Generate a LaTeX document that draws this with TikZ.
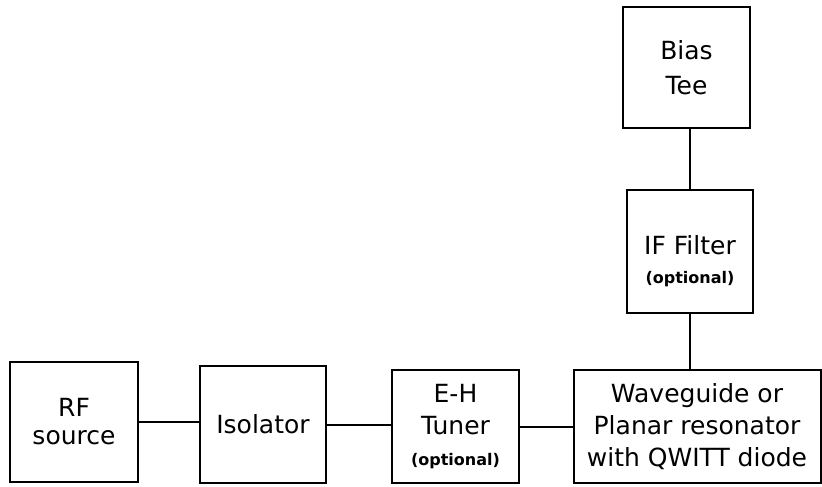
\documentclass[tikz,border=0pt]{standalone}
\usepackage{fontspec}
\setmainfont{DejaVu Sans}
\newcommand{\optfont}{\fontsize{16}{19}\selectfont\bfseries}
\usetikzlibrary{positioning}

\begin{document}
\begin{tikzpicture}[x=1pt,y=-1pt,line width=2pt,
  block/.style={draw,rectangle,align=center,inner sep=0pt,
    font=\fontsize{25}{32}\selectfont}]
  \useasboundingbox (0,0) rectangle (822,487);
  \node[block,minimum width=128pt,minimum height=120pt] (src)  at (74,422)   {RF\\[-4pt]source};
  \node[block,minimum width=126pt,minimum height=117pt] (iso)  at (263,424.5) {Isolator};
  \node[block,minimum width=127pt,minimum height=113pt] (tun)  at (455.5,426.5) {E-H\\Tuner\\[-1pt]{\optfont (optional)}};
  \node[block,minimum width=247pt,minimum height=113pt] (wg)   at (697,426.5) {Waveguide or\\Planar resonator\\with QWITT diode};
  \node[block,minimum width=126pt,minimum height=123pt,
    label={[yshift=-10pt,align=center,font=\fontsize{25}{29}\selectfont]center:IF Filter\\{\optfont (optional)}}] (filt) at (690,251.5) {};
  \node[block,minimum width=127pt,minimum height=121pt] (bias) at (686.5,67.5) {Bias\\[3pt]Tee};
  \path[draw]
    (src.east)  -- (src.east -| iso.west)
    (iso.east)  -- (iso.east -| tun.west)
    (tun.east)  -- (tun.east -| wg.west)
    (filt.north) -- (filt.north |- bias.south)
    (filt.south) -- (filt.south |- wg.north)
  ;
\end{tikzpicture}
\end{document}
